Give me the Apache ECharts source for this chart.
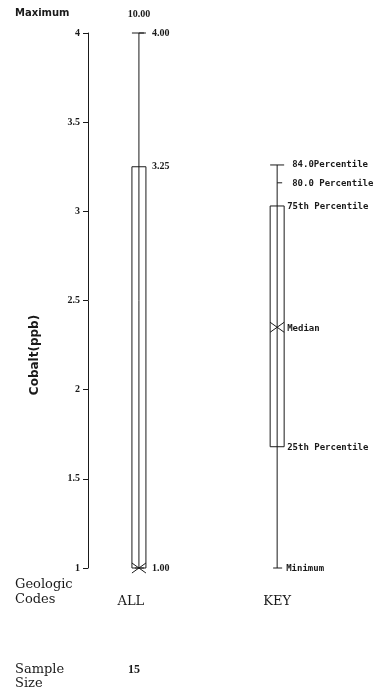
<!DOCTYPE html>
<html>
<head>
<meta charset="utf-8">
<script src="https://cdn.jsdelivr.net/npm/echarts@6/dist/echarts.min.js"></script>
<style>
  html, body { margin: 0; padding: 0; background: #fff; }
  #chart { width: 379px; height: 696px; }
</style>
</head>
<body>
<div id="chart"></div>
<script>
// Percentile box plot of cobalt concentrations, with an explanatory key box.
const categories = ['ALL', 'KEY'];
const minimum    = [1.00, 1.00];
const pct25      = [1.00, 1.68];
const median     = [1.00, 2.35];
const pct75      = [3.25, 3.03];
const pct80      = [4.00, 3.16];
const pct84      = [4.00, 3.26];
const maximum    = ['10.00', ''];
const sampleSize = ['15', ''];
const yTicks     = [1, 1.5, 2, 2.5, 3, 3.5, 4];
const keyLabels  = {
  p84: '84.0Percentile', p80: '80.0 Percentile', p75: '75th Percentile',
  med: 'Median', p25: '25th Percentile', min: 'Minimum'
};

// horizontal slot of each column on the hidden x axis
const slot = [1.75, 6.5];

const INK = '#1a1a1a';
const numFont = 'bold 10px "Liberation Serif", serif';
const keyFont = 'bold 9px "DejaVu Sans Mono", monospace';
const rowFont = '13px "DejaVu Serif", serif';

const chart = echarts.init(document.getElementById('chart'), null, { renderer: 'canvas' });

function renderItem(params, api) {
  const i = api.value(0);
  const yMax = 4, yMin = 1;
  const clip = v => Math.max(yMin, Math.min(yMax, v));
  const x = api.coord([slot[i], 1])[0];
  const Y = v => api.coord([slot[i], clip(v)])[1];
  const half = 7;
  const ls = { stroke: INK, lineWidth: 1, fill: null };
  const els = [];
  const line = (x1, y1, x2, y2) => els.push({ type: 'line', shape: { x1, y1, x2, y2 }, style: ls });
  const text = (t, tx, ty, font, align) => els.push({
    type: 'text', style: { text: t, x: tx, y: ty, font, fill: INK, align: align || 'left', verticalAlign: 'middle' }
  });

  const yMn = Y(minimum[i]), y25 = Y(pct25[i]), yMd = Y(median[i]);
  const y75 = Y(pct75[i]), y80 = Y(pct80[i]), y84 = Y(pct84[i]);

  // whisker running through the box
  line(x, y84, x, yMn);
  // upper cap (84th percentile) and minimum cap
  line(x - 7, y84, x + 7, y84);
  line(x - 4, yMn, x + 5, yMn);
  // 80th percentile tick
  line(x, y80, x + 5, y80);
  // box from 25th to 75th percentile
  els.push({ type: 'rect', shape: { x: x - half, y: y75, width: 2 * half, height: y25 - y75 }, style: ls });
  // median cross
  line(x - half, yMd - 5, x + half, yMd + 5);
  line(x - half, yMd + 5, x + half, yMd - 5);

  if (categories[i] === 'KEY') {
    text(keyLabels.p84, x + 15, y84, keyFont);
    text(keyLabels.p80, x + 15, y80 + 1, keyFont);
    text(keyLabels.p75, x + 10, y75 + 1, keyFont);
    text(keyLabels.med, x + 10, yMd + 1, keyFont);
    text(keyLabels.p25, x + 10, y25 + 1, keyFont);
    text(keyLabels.min, x + 9, yMn + 1, keyFont);
  } else {
    const lx = x + 13;
    text(pct84[i].toFixed(2), lx, y84, numFont);
    text(pct75[i].toFixed(2), lx, y75, numFont);
    text(median[i].toFixed(2), lx, yMd, numFont);
  }

  // rows above and below the plot
  const top = api.coord([slot[i], yMax])[1];
  const bottom = api.coord([slot[i], yMin])[1];
  if (maximum[i]) text(maximum[i], x, top - 19, numFont, 'center');
  text(categories[i], x - 8 + (i ? 8 : 0), bottom + 34, rowFont, 'center');
  if (sampleSize[i]) text(sampleSize[i], x - 5, bottom + 102, 'bold 12px "Liberation Serif", serif', 'center');
  return { type: 'group', children: els };
}

chart.setOption({
  animation: false,
  backgroundColor: '#ffffff',
  grid: { left: 88, right: 0, top: 33, bottom: 128 },
  xAxis: { type: 'value', min: 0, max: 10, show: false },
  yAxis: {
    type: 'value', min: 1, max: 4, interval: 0.5,
    axisLine: { show: true, lineStyle: { color: INK, width: 1 } },
    axisTick: { show: true, inside: false, length: 5, lineStyle: { color: INK } },
    splitLine: { show: false },
    axisLabel: {
      margin: 8, color: INK, fontFamily: 'Liberation Serif', fontWeight: 'bold', fontSize: 10,
      formatter: v => (yTicks.indexOf(v) >= 0 ? String(v) : '')
    }
  },
  graphic: [
    { type: 'text', left: 15, top: 8, style: { text: 'Maximum', font: 'bold 10px "DejaVu Sans", sans-serif', fill: INK } },
    { type: 'text', left: 15, top: 577, style: { text: 'Geologic\nCodes', font: rowFont, lineHeight: 15, fill: INK } },
    { type: 'text', left: 15, top: 663, style: { text: 'Sample\nSize', font: rowFont, lineHeight: 14, fill: INK } },
    {
      type: 'text', x: 35, y: 355, rotation: Math.PI / 2,
      style: { text: 'Cobalt(ppb)', font: 'bold 12px "DejaVu Sans", sans-serif', fill: INK, align: 'center', verticalAlign: 'middle' }
    }
  ],
  series: [{
    type: 'custom',
    renderItem,
    clip: false,
    data: categories.map((c, i) => [i])
  }]
});
</script>
</body>
</html>
